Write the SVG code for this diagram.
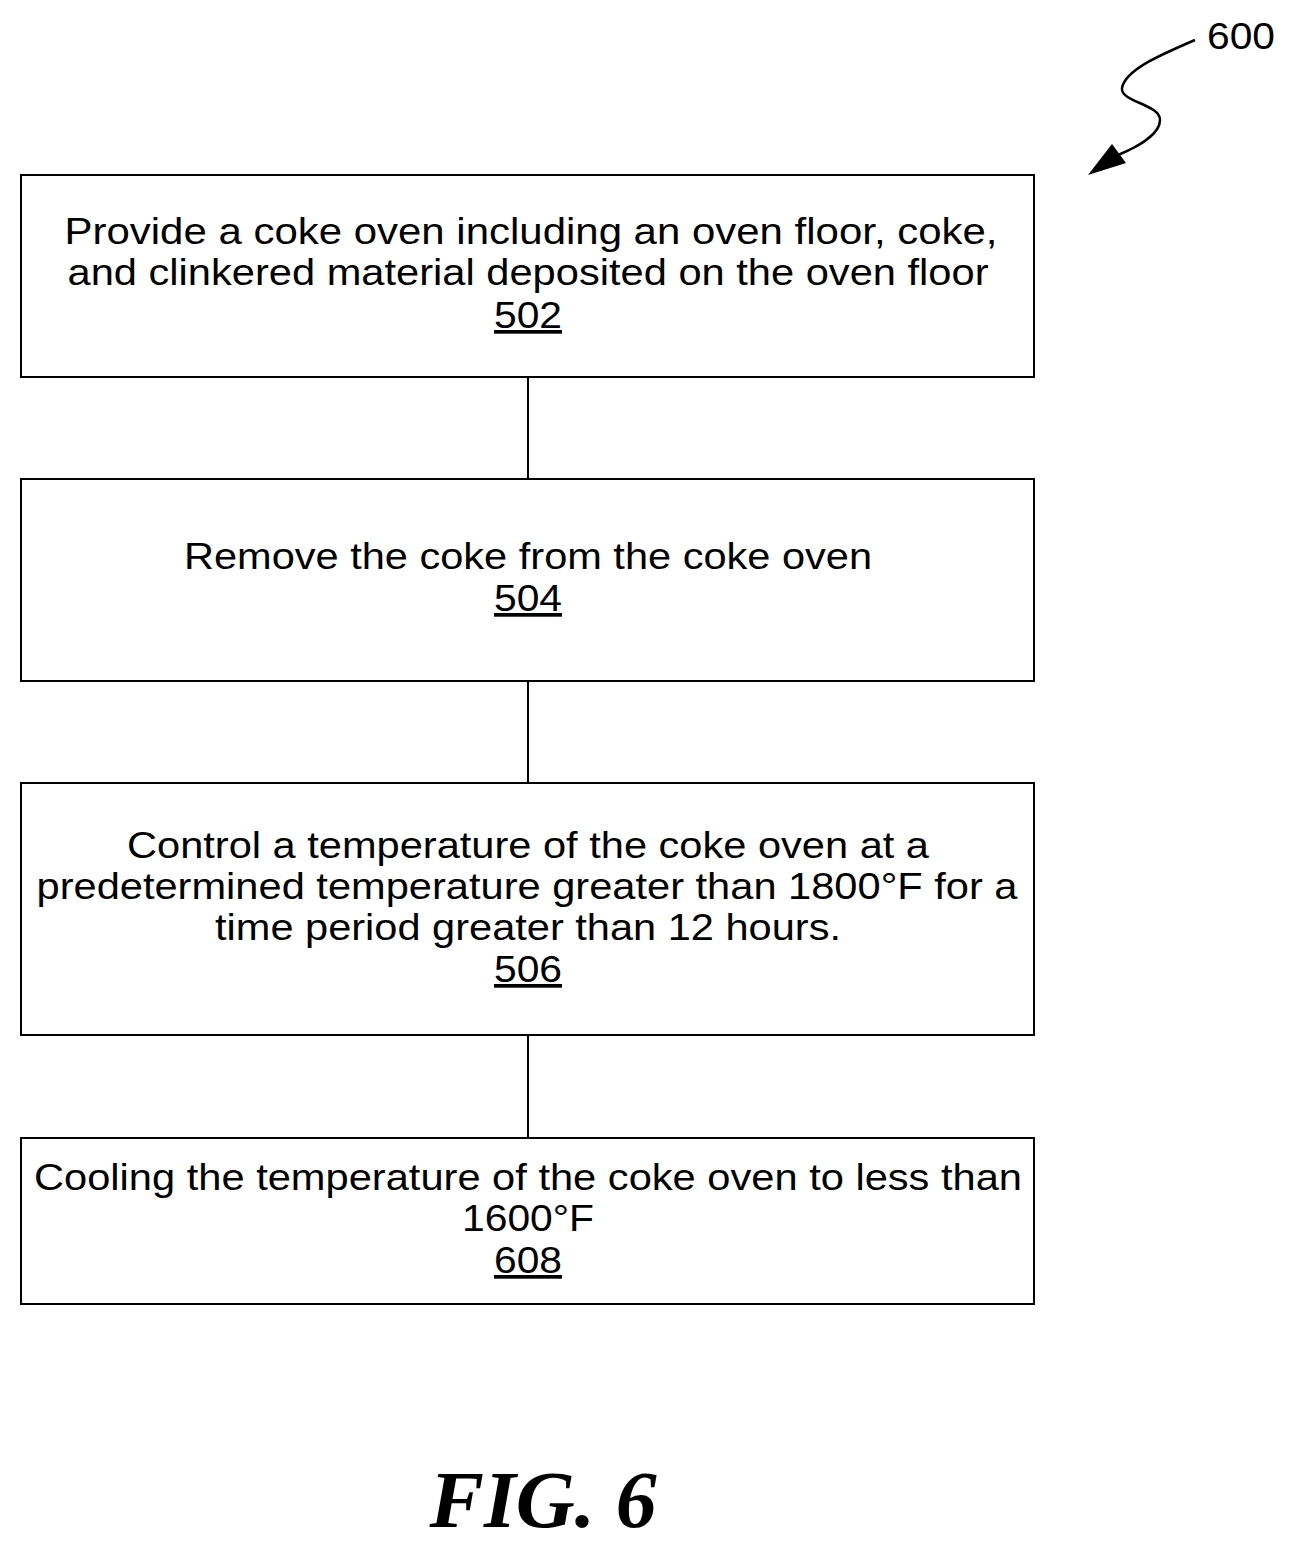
<svg xmlns="http://www.w3.org/2000/svg" width="1294" height="1548" viewBox="0 0 1294 1548">
<style>
.b{fill:#fff;stroke:#000;stroke-width:2}
.t{font-family:"Liberation Sans",Arial,sans-serif;font-size:37px;text-anchor:middle;fill:#000}
.u{text-decoration:underline}
.c{stroke:#000;stroke-width:2;fill:none}
</style>
<rect width="1294" height="1548" fill="#fff"/>
<g id="connectors">
<line class="c" x1="528" y1="377" x2="528" y2="479"/>
<line class="c" x1="528" y1="681" x2="528" y2="783"/>
<line class="c" x1="528" y1="1035" x2="528" y2="1138"/>
<path d="M1195,40 C1160,55 1125,70 1122,88 C1120,102 1160,104 1160,120 C1160,135 1135,148 1118,155" fill="none" stroke="#000" stroke-width="2.5"/>
<polygon points="1088,175 1112,144 1126,163"/>
</g>
<g id="label600"><text class="t" x="1241" y="49" textLength="68" lengthAdjust="spacingAndGlyphs">600</text></g>
<g id="n502"><rect class="b" x="21" y="175" width="1013" height="202"/>
<text class="t" x="531" y="244" textLength="933" lengthAdjust="spacingAndGlyphs">Provide a coke oven including an oven floor, coke,</text>
<text class="t" x="528" y="285" textLength="921" lengthAdjust="spacingAndGlyphs">and clinkered material deposited on the oven floor</text>
<text class="t u" x="528" y="328" textLength="68" lengthAdjust="spacingAndGlyphs">502</text></g>
<g id="n504"><rect class="b" x="21" y="479" width="1013" height="202"/>
<text class="t" x="528" y="569" textLength="688" lengthAdjust="spacingAndGlyphs">Remove the coke from the coke oven</text>
<text class="t u" x="528" y="611" textLength="68" lengthAdjust="spacingAndGlyphs">504</text></g>
<g id="n506"><rect class="b" x="21" y="783" width="1013" height="252"/>
<text class="t" x="528" y="858" textLength="802" lengthAdjust="spacingAndGlyphs">Control a temperature of the coke oven at a</text>
<text class="t" x="527" y="899" textLength="981" lengthAdjust="spacingAndGlyphs">predetermined temperature greater than 1800°F for a</text>
<text class="t" x="528" y="940" textLength="626" lengthAdjust="spacingAndGlyphs">time period greater than 12 hours.</text>
<text class="t u" x="528" y="982" textLength="68" lengthAdjust="spacingAndGlyphs">506</text></g>
<g id="n608"><rect class="b" x="21" y="1138" width="1013" height="166"/>
<text class="t" x="528" y="1190" textLength="988" lengthAdjust="spacingAndGlyphs">Cooling the temperature of the coke oven to less than</text>
<text class="t" x="528" y="1231" textLength="132" lengthAdjust="spacingAndGlyphs">1600°F</text>
<text class="t u" x="528" y="1273" textLength="68" lengthAdjust="spacingAndGlyphs">608</text></g>
<g id="fig"><text x="543" y="1527" text-anchor="middle" style="font-family:'Liberation Serif',serif;font-size:80px;font-weight:bold;font-style:italic" textLength="227" lengthAdjust="spacingAndGlyphs">FIG. 6</text></g>
</svg>
